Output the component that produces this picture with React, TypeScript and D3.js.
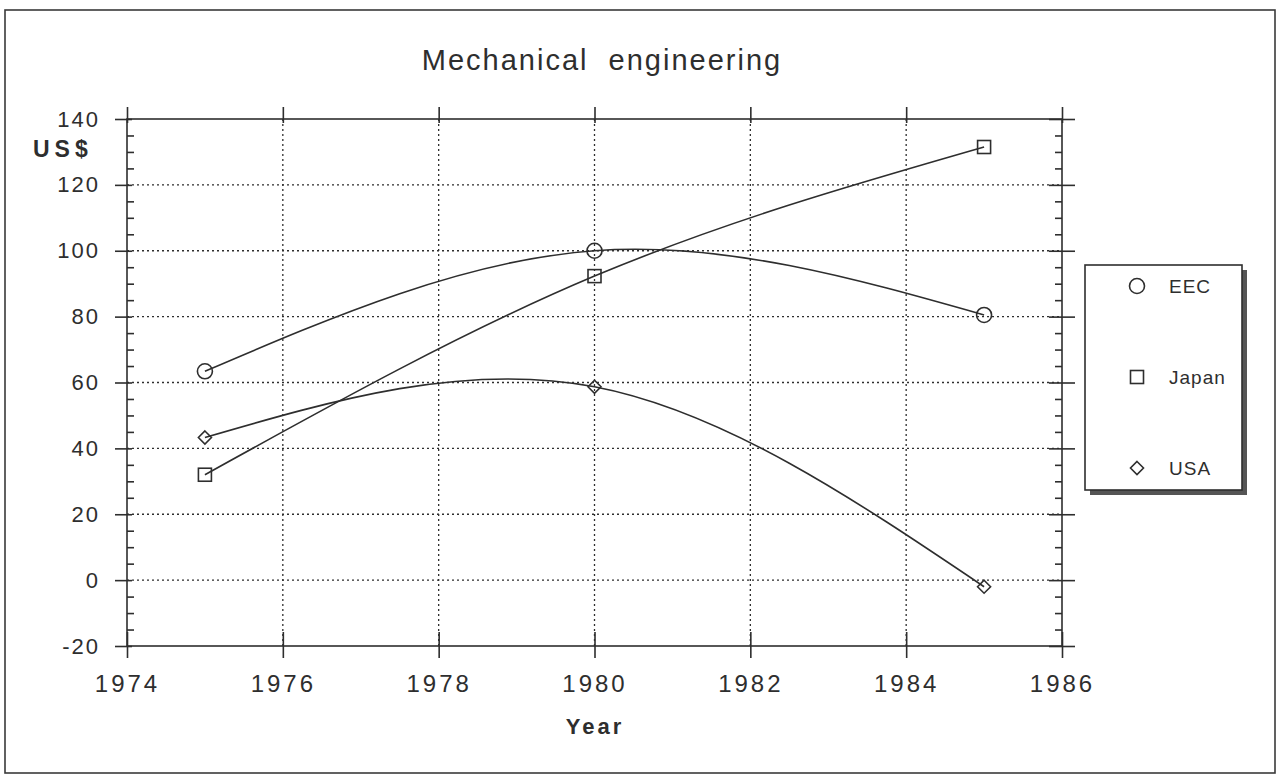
import React, { useEffect, useRef } from 'react';
import * as d3 from 'd3';

// values (US$)
const years = [1975, 1980, 1985];
const eec = [63.4, 100, 80.5];
const japan = [32, 92.3, 131.5];
const usa = [43.3, 58.7, -2];

const yTicks = [-20, 0, 20, 40, 60, 80, 100, 120, 140];
const yMinor = d3.range(-20, 141, 5).filter(v => v % 20 !== 0);
const xTicks = [1974, 1976, 1978, 1980, 1982, 1984, 1986];

const seriesList = [
  { name: 'EEC', values: eec, symbol: 'circle' },
  { name: 'Japan', values: japan, symbol: 'square' },
  { name: 'USA', values: usa, symbol: 'diamond' },
];

const INK = '#2e2e2e';
const FONT = '"Liberation Sans", Arial, Helvetica, sans-serif';

function drawMarker(g: any, kind: string, cx: number, cy: number) {
  if (kind === 'circle') {
    g.append('circle').attr('cx', cx).attr('cy', cy).attr('r', 7.5)
      .attr('fill', 'none').attr('stroke', INK).attr('stroke-width', 1.6);
  } else if (kind === 'square') {
    g.append('rect').attr('x', cx - 6.5).attr('y', cy - 6.5).attr('width', 13).attr('height', 13)
      .attr('fill', 'none').attr('stroke', INK).attr('stroke-width', 1.6);
  } else {
    const s = 6.5;
    g.append('path')
      .attr('d', `M${cx},${cy - s}L${cx + s},${cy}L${cx},${cy + s}L${cx - s},${cy}Z`)
      .attr('fill', 'none').attr('stroke', INK).attr('stroke-width', 1.6);
  }
}

export default function App() {
  const ref = useRef<SVGSVGElement | null>(null);

  useEffect(() => {
    const svg = d3.select(ref.current);
    svg.selectAll('*').remove();

    const x0 = 127, x1 = 1062, y0 = 119, y1 = 646;
    const x = d3.scaleLinear().domain([1974, 1986]).range([x0, x1]);
    const y = d3.scaleLinear().domain([-20, 140]).range([y1, y0]);

    // outer frame
    svg.append('rect').attr('x', 5).attr('y', 10).attr('width', 1270).attr('height', 763)
      .attr('fill', 'white').attr('stroke', '#3a3a3a').attr('stroke-width', 1.6);

    // title
    svg.append('text').attr('x', 602).attr('y', 70).attr('text-anchor', 'middle')
      .style('font-family', FONT).style('font-size', '29px').style('letter-spacing', '2px')
      .style('white-space', 'pre').attr('fill', INK)
      .text('Mechanical  engineering');

    // dotted grid
    const grid = svg.append('g').attr('stroke', INK).attr('stroke-width', 1.3)
      .attr('stroke-dasharray', '2,3');
    yTicks.slice(1, -1).forEach(v => {
      grid.append('line').attr('x1', x0).attr('x2', x1).attr('y1', y(v)).attr('y2', y(v));
    });
    xTicks.slice(1, -1).forEach(v => {
      grid.append('line').attr('x1', x(v)).attr('x2', x(v)).attr('y1', y0).attr('y2', y1);
    });

    const styleAxis = (g: any) => {
      g.select('.domain').remove();
      g.selectAll('.tick line').attr('stroke', INK).attr('stroke-width', 1.6);
      g.selectAll('.tick text').attr('fill', INK).style('font-family', FONT);
    };

    // left axis
    svg.append('g').attr('transform', `translate(${x0},0)`)
      .call(d3.axisLeft(y).tickValues(yTicks).tickSize(12).tickPadding(15).tickFormat(d => String(d)))
      .call(styleAxis)
      .call(g => g.selectAll('.tick text').style('font-size', '22px').style('letter-spacing', '2px'));
    svg.append('g').attr('transform', `translate(${x0},0)`)
      .call(d3.axisRight(y).tickValues(yTicks).tickSize(5).tickFormat(() => ''))
      .call(styleAxis);
    svg.append('g').attr('transform', `translate(${x0},0)`)
      .call(d3.axisRight(y).tickValues(yMinor).tickSize(7).tickFormat(() => ''))
      .call(styleAxis);

    // right axis
    svg.append('g').attr('transform', `translate(${x1},0)`)
      .call(d3.axisRight(y).tickValues(yTicks).tickSize(13).tickFormat(() => ''))
      .call(styleAxis);
    svg.append('g').attr('transform', `translate(${x1},0)`)
      .call(d3.axisLeft(y).tickValues(yTicks).tickSize(13).tickFormat(() => ''))
      .call(styleAxis);
    svg.append('g').attr('transform', `translate(${x1},0)`)
      .call(d3.axisLeft(y).tickValues(yMinor).tickSize(7).tickFormat(() => ''))
      .call(styleAxis);

    // bottom axis
    svg.append('g').attr('transform', `translate(0,${y1})`)
      .call(d3.axisBottom(x).tickValues(xTicks).tickSize(12).tickPadding(17).tickFormat(d3.format('d')))
      .call(styleAxis)
      .call(g => g.selectAll('.tick text').style('font-size', '24px').style('letter-spacing', '3px'));
    svg.append('g').attr('transform', `translate(0,${y1})`)
      .call(d3.axisTop(x).tickValues(xTicks).tickSize(14).tickFormat(() => ''))
      .call(styleAxis);

    // top axis
    svg.append('g').attr('transform', `translate(0,${y0})`)
      .call(d3.axisTop(x).tickValues(xTicks).tickSize(12).tickFormat(() => ''))
      .call(styleAxis);
    svg.append('g').attr('transform', `translate(0,${y0})`)
      .call(d3.axisBottom(x).tickValues(xTicks).tickSize(4).tickFormat(() => ''))
      .call(styleAxis);

    // plot frame
    svg.append('rect').attr('x', x0).attr('y', y0).attr('width', x1 - x0).attr('height', y1 - y0)
      .attr('fill', 'none').attr('stroke', INK).attr('stroke-width', 1.6);

    // axis titles
    svg.append('text').attr('x', 33).attr('y', 157)
      .style('font-family', FONT).style('font-size', '23px').style('font-weight', 'bold')
      .style('letter-spacing', '5px').attr('fill', INK).text('US$');
    svg.append('text').attr('x', 595).attr('y', 734).attr('text-anchor', 'middle')
      .style('font-family', FONT).style('font-size', '22px').style('font-weight', 'bold')
      .style('letter-spacing', '3px').attr('fill', INK).text('Year');

    // series
    const line = d3.line<[number, number]>()
      .x(d => x(d[0]))
      .y(d => y(d[1]))
      .curve(d3.curveNatural);

    const plot = svg.append('g');
    seriesList.forEach(s => {
      const pts = years.map((yr, i) => [yr, s.values[i]] as [number, number]);
      plot.append('path').datum(pts).attr('d', line)
        .attr('fill', 'none').attr('stroke', INK).attr('stroke-width', 1.6);
      pts.forEach(p => drawMarker(plot, s.symbol, x(p[0]), y(p[1])));
    });

    // legend
    const lx = 1085, ly = 265, lw = 157, lh = 225;
    svg.append('rect').attr('x', lx + 5).attr('y', ly + 5).attr('width', lw).attr('height', lh)
      .attr('fill', '#555');
    svg.append('rect').attr('x', lx).attr('y', ly).attr('width', lw).attr('height', lh)
      .attr('fill', 'white').attr('stroke', INK).attr('stroke-width', 1.6);
    const rowY = d3.scalePoint<string>().domain(seriesList.map(s => s.name))
      .range([ly + 21, ly + 203]);
    seriesList.forEach(s => {
      const cy = rowY(s.name) as number;
      drawMarker(svg, s.symbol, lx + 52, cy);
      svg.append('text').attr('x', lx + 84).attr('y', cy + 7)
        .style('font-family', FONT).style('font-size', '19px').style('letter-spacing', '1px')
        .attr('fill', INK).text(s.name);
    });
  }, []);

  return (
    <svg ref={ref} width={1278} height={777}
      style={{ position: 'absolute', left: 0, top: 0, display: 'block', background: 'white' }} />
  );
}
